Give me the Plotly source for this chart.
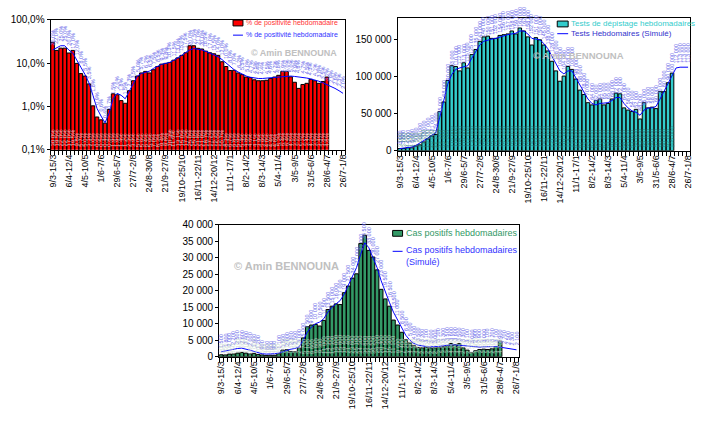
import math
import plotly.graph_objects as go

# ---------------- data ----------------
tick_labels = ["9/3-15/3", "6/4-12/4", "4/5-10/5", "1/6-7/6", "29/6-5/7", "27/7-2/8",
               "24/8-30/8", "21/9-27/9", "19/10-25/10", "16/11-22/11", "14/12-20/12",
               "11/1-17/1", "8/2-14/2", "8/3-14/3", "5/4-11/4", "3/5-9/5", "31/5-6/6",
               "28/6-4/7", "26/7-1/8"]

# weekly positivity (%) - bars
positivity = [30, 19.5, 22, 22, 17, 19.5, 9.8, 5.7, 5.0, 3.3, 1.03, 0.57, 0.49, 0.41, 0.85,
              1.95, 1.85, 1.36, 1.18, 2.3, 3.9, 5.0, 5.9, 6.4, 5.9, 7.0, 8.3, 9.4, 9.8, 10.3,
              11.6, 13.1, 15, 17.2, 25, 25, 21.8, 21, 18.7, 17.2, 16.3, 15, 10.7, 8.3, 6.7,
              6.8, 5.9, 5.4, 4.75, 4.6, 4.1, 3.9, 3.9, 4.0, 4.4, 4.75, 5.2, 6.4, 6.4, 4.8,
              3.6, 2.6, 3.2, 3.4, 4.2, 3.9, 3.4, 3.75, 4.75]
# simulated positivity (%) - line
positivity_sim = [20, 22, 25, 25, 20, 17, 12, 8, 5.5, 3.5, 1.8, 0.9, 0.6, 0.42, 0.7, 1.5, 2.0,
                  1.8, 1.5, 2.3, 3.5, 5, 5.7, 6.2, 6.5, 7.5, 8.5, 9.3, 9.8, 10.3, 11.5, 13, 15,
                  17.5, 20, 21.5, 21, 20, 18.5, 17, 15.5, 14, 12, 10, 8, 7, 6.2, 5.5, 5, 4.7,
                  4.5, 4.4, 4.4, 4.5, 4.6, 4.7, 4.8, 4.9, 5.0, 5.0, 4.9, 4.8, 4.7, 4.5, 4.3,
                  4.1, 3.8, 3.5, 3.2, 2.9, 2.6, 2.3, 2.0]

# weekly tests - bars
tests = [3000, 3000, 4000, 4000, 6500, 8000, 12000, 16000, 20000, 22000, 53000, 66000, 95000,
         115000, 114000, 108000, 119000, 112000, 130000, 137000, 148000, 154000, 155000, 152000,
         152000, 156000, 157000, 158000, 162000, 158000, 166000, 162000, 154000, 143000, 153000,
         150000, 143000, 135000, 121000, 108000, 94000, 101000, 114000, 110000, 97000, 82000,
         76000, 65000, 62000, 68000, 70000, 62000, 64000, 70000, 78000, 77000, 58000, 55000,
         53000, 56000, 43000, 65000, 58000, 59000, 57000, 80000, 80000, 92000, 105000]
# simulated tests - line
tests_sim = [3000, 3500, 4000, 5000, 7000, 10000, 13000, 17000, 21000, 24000, 45000, 68000,
             90000, 103000, 110000, 112000, 113000, 115000, 125000, 135000, 143000, 148000,
             150000, 151000, 152000, 154000, 156000, 157000, 158000, 159000, 162000, 162000,
             158000, 152000, 151000, 150000, 145000, 138000, 128000, 118000, 108000, 104000,
             108000, 108000, 98000, 88000, 78000, 70000, 64000, 62000, 64000, 65000, 65000,
             68000, 72000, 72000, 64000, 58000, 54000, 52000, 48000, 55000, 58000, 58000,
             60000, 70000, 80000, 90000, 100000, 112000, 113000, 113000, 113000]

# weekly positive cases - bars
cases = [600, 550, 800, 850, 1100, 1300, 1100, 900, 1000, 700, 550, 400, 450, 450, 900, 2000,
         2100, 1600, 1500, 2600, 5700, 9100, 9600, 9800, 9300, 11000, 14300, 15300, 16000,
         15800, 19400, 21400, 23800, 25100, 34300, 36800, 32200, 30200, 26300, 20400, 17500,
         15300, 11100, 9600, 7400, 5200, 4200, 3300, 2800, 2700, 2900, 2700, 2700, 2800, 3000,
         3300, 4000, 3700, 4000, 2700, 2000, 1300, 1800, 2200, 2300, 2200, 2400, 3100, 4700]
# simulated cases - line
cases_sim = [1500, 1800, 2000, 2200, 2500, 2600, 2400, 2000, 1600, 1200, 900, 800, 800, 900,
             1100, 1500, 2000, 2300, 2500, 3000, 5000, 7500, 9000, 10000, 10500, 11500, 13500,
             15000, 16000, 17000, 19000, 21500, 24000, 27000, 31000, 34500, 33000, 30000,
             27000, 23000, 19500, 16500, 13500, 11000, 8500, 6500, 5000, 4000, 3500, 3200, 3100,
             3000, 3000, 3100, 3300, 3500, 3600, 3600, 3500, 3300, 3100, 3000, 2900, 2900, 3000,
             3100, 3200, 3100, 2900, 2700, 2500, 2300, 2100]

FONT = "Liberation Sans, Arial, sans-serif"
N_WEEKS = len(positivity_sim)
W, H = 704, 422


def thousands(v):
    return "{:,}".format(int(round(v))).replace(",", " ")


def pct(v):
    return ("%.1f" % v).replace(".", ",") + "%"


def px(x):
    return x / W


def py(y):
    return 1 - y / H


fig = go.Figure()
xb = list(range(len(positivity)))
xl = list(range(N_WEEKS))

series = [
    ("x", "y", positivity, positivity_sim, "#ff0000"),
    ("x2", "y2", tests, tests_sim, "#33cccc"),
    ("x3", "y3", cases, cases_sim, "#339966"),
]
for xa, ya, bars, line, col in series:
    fig.add_trace(go.Bar(x=xb, y=bars, xaxis=xa, yaxis=ya, showlegend=False,
                         marker=dict(color=col, line=dict(color="black", width=1))))
    fig.add_trace(go.Scatter(x=xl, y=line, xaxis=xa, yaxis=ya, mode="lines", showlegend=False,
                             line=dict(color="#0000ff", width=1)))

annotations = []
shapes = []

LBL = "#6464e8"
# data labels above the simulated lines
for i, v in enumerate(positivity_sim):
    annotations.append(dict(x=i, y=math.log10(v), xref="x", yref="y", text=pct(v),
                            textangle=-90, showarrow=False, yanchor="bottom", yshift=2,
                            font=dict(family=FONT, size=5.5, color=LBL)))
for i, v in enumerate(tests_sim):
    annotations.append(dict(x=i, y=v, xref="x2", yref="y2", text=thousands(v),
                            textangle=-90, showarrow=False, yanchor="bottom", yshift=2,
                            font=dict(family=FONT, size=5.5, color=LBL)))
for i, v in enumerate(cases_sim):
    annotations.append(dict(x=i, y=v, xref="x3", yref="y3", text=thousands(v),
                            textangle=-90, showarrow=False, yanchor="bottom", yshift=2,
                            font=dict(family=FONT, size=5.5, color=LBL)))
# data labels at the bar bases
for i, v in enumerate(positivity):
    annotations.append(dict(x=i, y=-1, xref="x", yref="y", text=pct(v), textangle=-90,
                            showarrow=False, yanchor="bottom", yshift=1,
                            font=dict(family=FONT, size=6, color="rgba(235,215,215,0.9)")))
for i, v in enumerate(tests):
    annotations.append(dict(x=i, y=0, xref="x2", yref="y2", text=thousands(v), textangle=-90,
                            showarrow=False, yanchor="bottom", yshift=1,
                            font=dict(family=FONT, size=6, color="rgba(40,120,120,0.8)")))
for i, v in enumerate(cases):
    annotations.append(dict(x=i, y=0, xref="x3", yref="y3", text=thousands(v), textangle=-90,
                            showarrow=False, yanchor="bottom", yshift=1,
                            font=dict(family=FONT, size=6, color="rgba(200,215,205,0.9)")))

# watermarks
for cx, cy, s in [(293, 41, 9), (628, 43, 9.5), (286, 268, 11)]:
    annotations.append(dict(x=px(cx), y=py(cy), xref="paper", yref="paper",
                            text="<b>© Amin BENNOUNA</b>", showarrow=False,
                            font=dict(family=FONT, size=s, color="#c0c0c0")))

# hand-drawn legends
legends = [
    (232, 242, 17.5, 30, 243, 7, "#ff0000", "#ff3333", "% de positivité hebdomadaire",
     "#3333ff", "% de positivité hebdomadaire", 30),
    (559, 570, 18.5, 28.5, 571, 8, "#33cccc", "#33cccc", "Tests de dépistage hebdomadaires",
     "#3333cc", "Tests Hebdomaires (Simulé)", 28.5),
    (393, 403, 234, 252.5, 404, 9, "#339966", "#339966", "Cas positifs hebdomadaires",
     "#3333ff", "Cas positifs hebdomadaires<br>(Simulé)", 257.5),
]
for x0, x1, by, ly, tx, fs, bcol, btc, btxt, ltc, ltxt, lty in legends:
    shapes.append(dict(type="rect", xref="paper", yref="paper", x0=px(x0), x1=px(x1),
                       y0=py(by + 3), y1=py(by - 3), fillcolor=bcol,
                       line=dict(color="black", width=1)))
    shapes.append(dict(type="line", xref="paper", yref="paper", x0=px(x0), x1=px(x1),
                       y0=py(ly), y1=py(ly), line=dict(color="#0000ff", width=1)))
    annotations.append(dict(x=px(tx), y=py(by), xref="paper", yref="paper", text=btxt,
                            showarrow=False, xanchor="left", yanchor="middle", align="left",
                            font=dict(family=FONT, size=fs, color=btc)))
    annotations.append(dict(x=px(tx), y=py(lty), xref="paper", yref="paper", text=ltxt,
                            showarrow=False, xanchor="left", yanchor="middle", align="left",
                            font=dict(family=FONT, size=fs, color=ltc)))


def xaxis(domain, anchor):
    return dict(domain=domain, anchor=anchor, range=[-0.5, 72.5],
                tickvals=list(range(0, N_WEEKS, 4)), ticktext=tick_labels, tickangle=-90,
                ticks="", showline=True, linecolor="black", linewidth=1, mirror=True,
                showgrid=False, zeroline=False,
                minor=dict(ticks="outside", tick0=0.5, dtick=1, ticklen=4, tickcolor="black",
                           showgrid=False),
                tickfont=dict(family=FONT, size=9, color="black"))


def yaxis(domain, anchor, **kw):
    d = dict(domain=domain, anchor=anchor, showline=True, linecolor="black", linewidth=1,
             mirror=True, showgrid=False, zeroline=False, ticks="outside", ticklen=3,
             tickcolor="black", tickfont=dict(family=FONT, size=10, color="black"))
    d.update(kw)
    return d


fig.update_layout(
    width=W, height=H, margin=dict(l=0, r=0, t=0, b=0),
    paper_bgcolor="white", plot_bgcolor="white",
    bargap=0.12, font=dict(family=FONT, size=9), showlegend=False,
    xaxis=xaxis([px(48), px(345)], "y"),
    yaxis=yaxis([py(148), py(14)], "x", type="log", range=[-1, 2],
                tickvals=[0.1, 1, 10, 100], ticktext=["0,1%", "1,0%", "10,0%", "100,0%"]),
    xaxis2=xaxis([px(398), px(693)], "y2"),
    yaxis2=yaxis([py(149), py(12)], "x2", range=[0, 180000],
                 tickvals=[0, 50000, 100000, 150000],
                 ticktext=["0", "50 000", "100 000", "150 000"]),
    xaxis3=xaxis([px(218), px(520)], "y3"),
    yaxis3=yaxis([py(361), py(225)], "x3", range=[0, 40000],
                 tickvals=list(range(0, 40001, 5000)),
                 ticktext=[thousands(v) for v in range(0, 40001, 5000)]),
    annotations=annotations,
    shapes=shapes,
)

fig.write_html("out.html",
               config={"displayModeBar": False},
               post_script="document.body.style.margin='0';"
                           "document.body.style.overflow='hidden';")
